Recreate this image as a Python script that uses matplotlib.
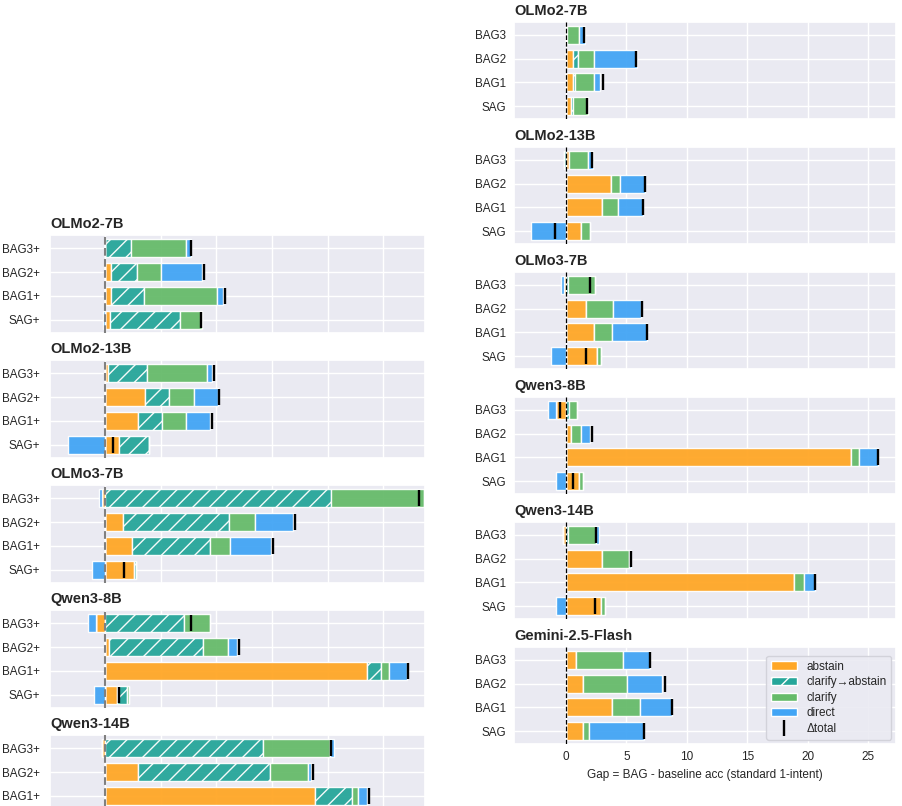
import numpy as np
import matplotlib
matplotlib.use("Agg")
import matplotlib.pyplot as plt
import seaborn as sns
from matplotlib.patches import Patch
from matplotlib.lines import Line2D

sns.set_theme(style="darkgrid")
plt.rcParams["font.family"] = ["Liberation Sans", "DejaVu Sans"]

# rows are ordered [SAG, BAG1, BAG2, BAG3]
models = ["OLMo2-7B", "OLMo2-13B", "OLMo3-7B", "Qwen3-8B", "Qwen3-14B", "Gemini-2.5-Flash"]
labels_std = ["SAG", "BAG1", "BAG2", "BAG3"]
labels_plus = ["SAG+", "BAG1+", "BAG2+", "BAG3+"]

# standard 1-intent baseline (right column)
abstain_std = [[0.40, 0.55, 0.58, 0.05],
               [1.25, 3.00, 3.70, 0.25],
               [2.60, 2.35, 1.66, -0.20],
               [1.10, 23.60, 0.40, -0.80],
               [2.90, 18.90, 3.00, -0.25],
               [1.38, 3.84, 1.38, 0.86]]
clar_abs_std = [[0.15, 0.20, 0.40, 0.00],
                [0.00, 0.00, 0.00, -0.15],
                [0.00, 0.00, 0.00, 0.15],
                [0.00, 0.00, 0.00, 0.28],
                [0.00, 0.00, 0.00, 0.15],
                [0.00, 0.00, 0.00, 0.00]]
clarify_std = [[1.25, 1.60, 1.33, 1.05],
               [0.75, 1.27, 0.78, 1.60],
               [0.28, 1.44, 2.24, 2.25],
               [0.28, 0.64, 0.83, 0.66],
               [0.33, 0.80, 2.18, 2.30],
               [0.55, 2.27, 3.70, 3.87]]
direct_std = [[0.00, 0.50, 3.56, 0.45],
              [-2.90, 2.10, 2.04, 0.40],
              [-1.20, 2.93, 2.30, -0.22],
              [-0.86, 1.57, 0.75, -0.69],
              [-0.86, 0.91, 0.20, 0.30],
              [4.50, 2.65, 2.90, 2.18]]
total_std = [[1.77, 3.07, 5.83, 1.49],
             [-0.94, 6.40, 6.50, 2.13],
             [1.69, 6.74, 6.30, 1.99],
             [0.58, 25.80, 2.13, -0.52],
             [2.43, 20.60, 5.41, 2.46],
             [6.49, 8.81, 8.15, 6.93]]

# "+" variants (left column)
abstain_plus = [[0.40, 0.54, 0.54, 0.00],
                [1.25, 2.95, 3.60, 0.30],
                [2.60, 2.40, 1.65, -0.24],
                [1.05, 23.50, 0.33, -0.80],
                [2.90, 18.90, 2.95, -0.24]]
clar_abs_plus = [[6.30, 3.00, 2.30, 2.30],
                 [2.70, 2.20, 2.10, 3.50],
                 [0.20, 7.00, 9.50, 20.30],
                 [0.90, 1.30, 8.50, 7.10],
                 [0.30, 3.30, 11.90, 14.20]]
clarify_plus = [[2.00, 6.55, 2.20, 5.00],
                [0.00, 2.10, 2.30, 5.35],
                [0.00, 1.80, 2.35, 8.36],
                [0.20, 0.70, 2.20, 2.30],
                [0.30, 0.55, 3.40, 6.00]]
direct_plus = [[-0.18, 0.50, 3.70, 0.45],
               [-3.30, 2.20, 2.15, 0.45],
               [-1.14, 3.75, 3.40, -0.30],
               [-0.96, 1.60, 0.85, -0.78],
               [-0.86, 0.80, 0.30, 0.35]]
total_plus = [[8.63, 10.80, 8.87, 7.73],
              [0.69, 9.60, 10.28, 9.83],
              [1.68, 15.10, 17.10, 28.20],
              [1.26, 27.20, 12.00, 7.70],
              [2.60, 23.70, 18.70, 20.30]]

comp_names = ["abstain", "clarify\u2192abstain", "clarify", "direct"]
colors = ["#FFA726", "#26A69A", "#66BB6A", "#42A5F5"]
hatches = [None, "//", None, None]

W, H = 902, 806
fig = plt.figure(figsize=(W / 100, H / 100), dpi=100)


def px_axes(left, top, width, height):
    return fig.add_axes([left / W, 1 - (top + height) / H, width / W, height / H])


def draw_panel(ax, title, comps, total, ylabels, xlim, zero_style, ypad):
    y = np.arange(4)
    pos_left = np.zeros(4)
    neg_left = np.zeros(4)
    for vals, c, h in zip(comps, colors, hatches):
        v = np.asarray(vals, dtype=float)
        pos = np.where(v > 0, v, 0)
        neg = np.where(v < 0, v, 0)
        ax.barh(y, pos, left=pos_left, height=0.75, color=c, alpha=0.95,
                edgecolor="white", linewidth=1, hatch=h, zorder=2)
        ax.barh(y, neg, left=neg_left, height=0.75, color=c, alpha=0.95,
                edgecolor="white", linewidth=1, hatch=h, zorder=2)
        pos_left += pos
        neg_left += neg
    ax.plot(total, y, linestyle="none", marker="|", markersize=11,
            markeredgewidth=1.7, color="black", zorder=4)
    ax.axvline(0, zorder=3, **zero_style)
    ax.set_yticks(y)
    ax.set_yticklabels(ylabels, fontsize=8.4)
    ax.set_ylim(-0.55, 3.55)
    ax.set_xlim(*xlim)
    ax.set_xticks(np.arange(0, 30, 5))
    ax.tick_params(axis="y", pad=ypad, length=0)
    ax.tick_params(axis="x", labelsize=8.5, length=0, pad=5)
    ax.set_title(title, loc="left", fontsize=10.5, fontweight="bold", pad=5)


# right column: standard baseline
std_zero = dict(color="black", linestyle="--", linewidth=0.9)
for i, m in enumerate(models):
    ax = px_axes(514, 21.7 + 125 * i, 382, 97.6)
    comps = [abstain_std[i], clar_abs_std[i], clarify_std[i], direct_std[i]]
    draw_panel(ax, m, comps, total_std[i], labels_std, (-4.3, 27.3), std_zero, 6)
    if i < len(models) - 1:
        ax.set_xticklabels([])
    else:
        ax.set_xlabel("Gap = BAG - baseline acc (standard 1-intent)", fontsize=8.5)
        handles = [Patch(facecolor=c, edgecolor="white", hatch=h, label=n)
                   for c, h, n in zip(colors, hatches, comp_names)]
        handles.append(Line2D([], [], linestyle="none", marker="|", markersize=11,
                              markeredgewidth=1.7, color="black", label="\u0394total"))
        ax.legend(handles=handles, loc="lower right", fontsize=8.5, frameon=True,
                  facecolor="#EAEAF2", edgecolor="#D0D0D8", framealpha=0.9,
                  borderaxespad=0.4, handlelength=2.2, labelspacing=0.3)

# left column: "+" variants, shifted down and cropped by the figure edge
plus_zero = dict(color="gray", linestyle="--", linewidth=1.5)
n_plus = len(abstain_plus)
for i in range(n_plus):
    ax = px_axes(50, 235 + 125 * i, 375, 98)
    comps = [abstain_plus[i], clar_abs_plus[i], clarify_plus[i], direct_plus[i]]
    draw_panel(ax, models[i], comps, total_plus[i], labels_plus, (-4.95, 28.75),
               plus_zero, 7.2)
    ax.set_xticklabels([])
    if i == n_plus - 1:
        # the bottom row of this panel falls below the figure edge
        ax.set_yticklabels([""] + labels_plus[1:])

fig.savefig("out.png", dpi=100)
